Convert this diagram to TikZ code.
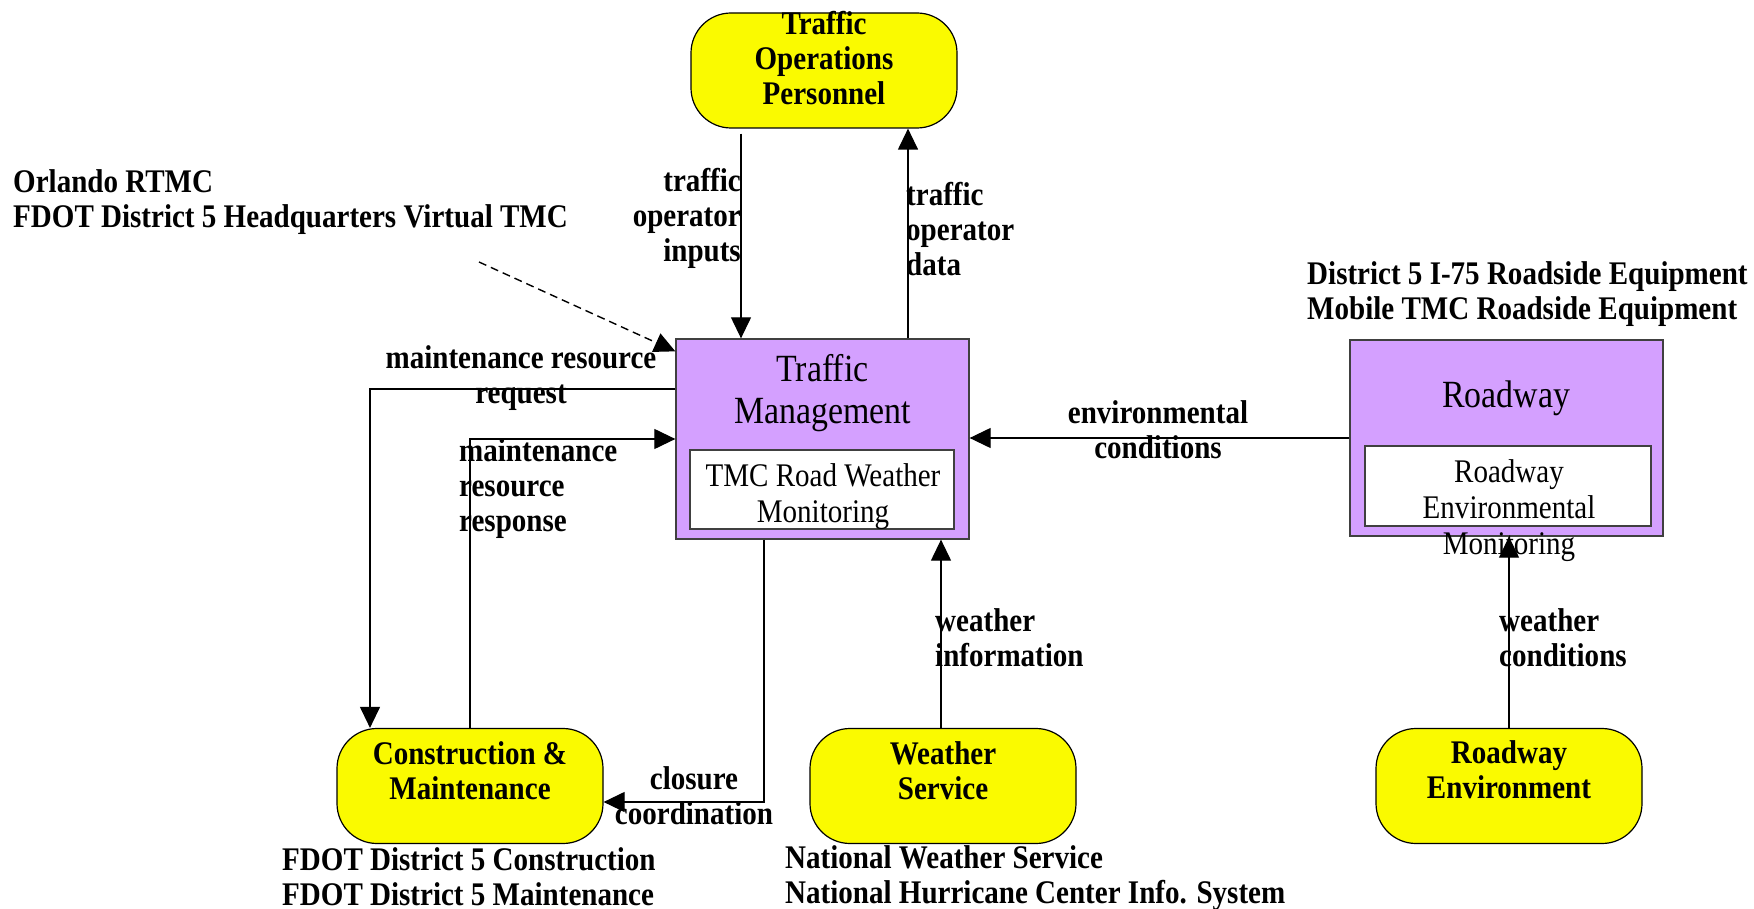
\documentclass[tikz,border=0pt]{standalone}
\usepackage{fontspec}
\setmainfont{Liberation Serif}[FakeStretch=0.88]
\usetikzlibrary{arrows.meta}
\definecolor{tmpurple}{RGB}{212,160,255}
\definecolor{tyellow}{RGB}{250,250,0}
\begin{document}
\begin{tikzpicture}[x=1pt,y=-1pt,
  ybox/.style={draw=black, line width=1.2pt, fill=tyellow, rounded corners=40pt, minimum width=266pt, minimum height=115pt, inner sep=0pt},
  pbox/.style={draw=black!75, line width=1.3pt, fill=tmpurple, inner sep=0pt},
  wbox/.style={draw=black!75, line width=1.2pt, fill=white, inner sep=0pt},
  btxt/.style={font=\fontsize{33}{35}\selectfont\bfseries, inner sep=0pt},
  rtxt/.style={font=\fontsize{33}{36}\selectfont, inner sep=0pt},
  ttxt/.style={font=\fontsize{38.5}{42}\selectfont, inner sep=0pt},
  arr/.style={-{Triangle[length=21pt,width=20pt]}, line width=1.2pt, black},
]
\useasboundingbox (0,0) rectangle (1754,909);

% yellow terminators
\node[ybox] (top) at (824,70.5) {};
\node[btxt, align=center] (topt) at (824,58.5) {Traffic\\Operations\\Personnel};
\node[ybox] (cm) at (470,786) {};
\node[btxt, align=center] (cmt) at (470,770.5) {Construction \&\\Maintenance};
\node[ybox] (ws) at (943,786) {};
\node[btxt, align=center] (wst) at (943,771) {Weather\\Service};
\node[ybox] (re) at (1509,786) {};
\node[btxt, align=center] (ret) at (1509,769.5) {Roadway\\Environment};

% Traffic management subsystem
\node[pbox, minimum width=293pt, minimum height=200pt] (tm) at (822.5,439) {};
\node[ttxt, align=center] (tmt) at (822.5,393.5) {Traffic\\Management};
\node[wbox, minimum width=264pt, minimum height=79pt] (tmi) at (822,489.5) {};
\node[rtxt, align=center] (tmit) at (823,497) {TMC Road Weather\\Monitoring};

% Roadway subsystem
\node[pbox, minimum width=313pt, minimum height=196pt] (rw) at (1506.5,438) {};
\node[ttxt] (rwt) at (1506,398) {Roadway};
\node[wbox, minimum width=286pt, minimum height=80pt] (rwi) at (1508,486) {};
\node[rtxt, align=center] (rwit) at (1509,510.5) {Roadway\\Environmental\\Monitoring};

% helper coordinates
\coordinate (xi) at (741,0);
\coordinate (xd) at (908,0);
\coordinate (xw) at (941,0);
\coordinate (xq) at (370,0);
\coordinate (yq) at (0,389);
\coordinate (xc) at (764,0);
\coordinate (yc) at (0,802);
\coordinate (dstart) at (479,262);

% connectors
\draw[arr] ([yshift=-5pt]top.south -| xi) -- (tm.north -| xi);
\draw[arr] (tm.north -| xd) -- (top.south -| xd);
\draw[arr, line width=1.4pt, dash pattern=on 8pt off 5pt] (dstart) -- ([yshift=-13pt]tm.north west);
\draw[arr] (rw.west) -- (rw.west -| tm.east);
\draw[arr] (ws.north -| xw) -- (tm.south -| xw);
\draw[arr] (re.north) -- (rw.south -| re.north);
\draw[arr] (tm.west |- yq) -| (cm.north -| xq);
\draw[arr] (cm.north) |- (tm.west);
\draw[arr] (tm.south -| xc) |- (cm.east |- yc);

% labels
\node[btxt, align=right, anchor=east] (l1) at (741,218) {traffic\\operator\\inputs};
\node[btxt, align=left, anchor=west] (l2) at (906,229) {traffic\\operator\\data};
\node[btxt, align=left, anchor=west] (l3) at (13,202) {Orlando RTMC\\FDOT District 5 Headquarters Virtual TMC};
\node[btxt, align=left, anchor=west] (l4) at (1307,294) {District 5 I-75 Roadside Equipment\\Mobile TMC Roadside Equipment};
\node[btxt, align=center] (l5) at (521,378.5) {maintenance resource\\request};
\node[btxt, align=left, anchor=west] (l6) at (459,489) {maintenance\\resource\\response};
\node[btxt, align=center] (l7) at (1158,429.5) {environmental\\conditions};
\node[btxt, align=left, anchor=west] (l8) at (935,638) {weather\\information};
\node[btxt, align=left, anchor=west] (l9) at (1499,638) {weather\\conditions};
\node[btxt, align=center] (l10) at (694,796) {closure\\coordination};
\node[btxt, align=left, anchor=west] (l11) at (282,877) {FDOT District 5 Construction\\FDOT District 5 Maintenance};
\node[btxt, align=left, anchor=west] (l12) at (785,878) {National Weather Service\\National Hurricane Center Info. System};
\end{tikzpicture}
\end{document}
